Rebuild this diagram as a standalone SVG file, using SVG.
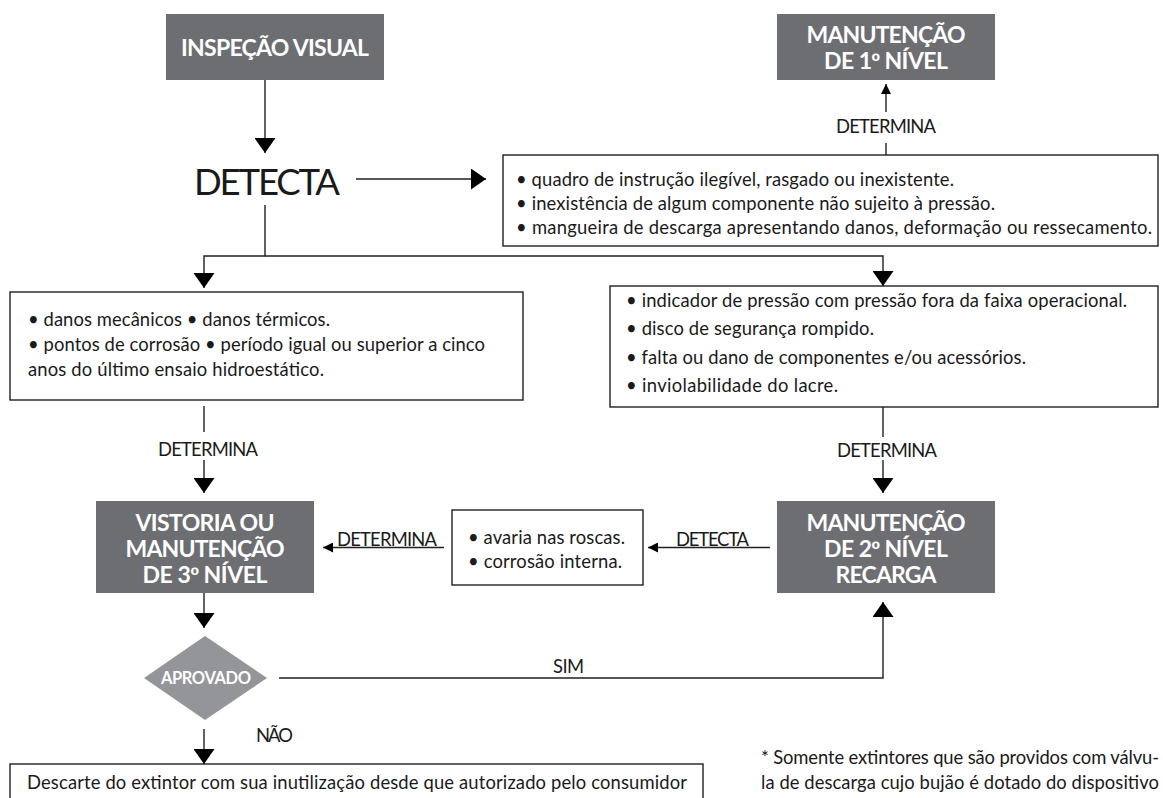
<svg xmlns="http://www.w3.org/2000/svg" width="1163" height="798" viewBox="0 0 1163 798">
  <style>
    .box{fill:#6d6e71}
    .dia{fill:#939598}
    .frame{fill:#fff;stroke:#231f20;stroke-width:1.4}
    .ln{fill:none;stroke:#231f20;stroke-width:1.4}
    .bt{font-family:Lato,"Open Sans","Liberation Sans",sans-serif;font-weight:700;font-size:23px;fill:#fff;text-anchor:middle}
    .t{font-family:Lato,"Open Sans","Liberation Sans",sans-serif;font-size:18.4px;fill:#1a1a1a}
    .big{font-size:36.5px}
    .c{text-anchor:middle}
    .ord{font-family:"Liberation Sans",Arial,sans-serif}
  </style>
  <defs>
    <marker id="ah" viewBox="0 0 15 21" markerWidth="15" markerHeight="21" refX="15" refY="10.5" orient="auto" markerUnits="userSpaceOnUse">
      <path d="M0,0 L15,10.5 L0,21 Z" fill="#000"/>
    </marker>
    <marker id="as" viewBox="0 0 10 10" markerWidth="10" markerHeight="10" refX="10" refY="5" orient="auto" markerUnits="userSpaceOnUse">
      <path d="M0,0 L10,5 L0,10 Z" fill="#000"/>
    </marker>
  </defs>
  <rect width="1163" height="798" fill="#fff"/>

  <g id="connectors">
    <path class="ln" d="M265,80 V153" marker-end="url(#ah)"/>
    <path class="ln" d="M356,179 H486" marker-end="url(#ah)"/>
    <path class="ln" d="M265,205 V256 H204 V288" marker-end="url(#ah)"/>
    <path class="ln" d="M265,256 H883 V286" marker-end="url(#ah)"/>
    <path class="ln" d="M886,155 V143"/>
    <path class="ln" d="M886,112 V84" marker-end="url(#as)"/>
    <path class="ln" d="M204,406 V432"/>
    <path class="ln" d="M204,460 V493" marker-end="url(#ah)"/>
    <path class="ln" d="M883,407 V437"/>
    <path class="ln" d="M883,460 V493" marker-end="url(#ah)"/>
    <path class="ln" d="M770,547.5 H648" marker-end="url(#as)"/>
    <path class="ln" d="M444,547.5 H323" marker-end="url(#as)"/>
    <path class="ln" d="M204,593 V628" marker-end="url(#ah)"/>
    <path class="ln" d="M279,678 H883 V602" marker-end="url(#ah)"/>
    <path class="ln" d="M204,729 V764" marker-end="url(#ah)"/>
    <g id="connector-labels">
      <text class="t c" x="886" y="133" textLength="100">DETERMINA</text>
      <text class="t c" x="208" y="456" textLength="100">DETERMINA</text>
      <text class="t c" x="887" y="456.5" textLength="100">DETERMINA</text>
      <text class="t" x="337" y="545.5" textLength="100">DETERMINA</text>
      <text class="t" x="676" y="545.5" textLength="73">DETECTA</text>
      <text class="t" x="553" y="673" textLength="31">SIM</text>
      <text class="t" x="256" y="742" textLength="37">NÃO</text>
    </g>
  </g>

  <g id="inspecao">
    <rect class="box" x="166" y="14" width="218" height="66"/>
    <text class="bt" x="275" y="56" textLength="188">INSPEÇÃO VISUAL</text>
  </g>

  <g id="detecta">
    <text class="t big" x="194" y="195" textLength="146">DETECTA</text>
  </g>

  <g id="manutencao1">
    <rect class="box" x="777" y="14" width="218" height="66"/>
    <text class="bt" x="886" y="42.5" textLength="159">MANUTENÇÃO</text>
    <text class="bt" x="886" y="69" textLength="124">DE 1<tspan class="ord">º</tspan> NÍVEL</text>
  </g>

  <g id="lista1">
    <rect class="frame" x="503" y="155" width="655" height="91"/>
    <text class="t" x="516" y="186" textLength="438">• quadro de instrução ilegível, rasgado ou inexistente.</text>
    <text class="t" x="516" y="210" textLength="479">• inexistência de algum componente não sujeito à pressão.</text>
    <text class="t" x="516" y="234" textLength="636">• mangueira de descarga apresentando danos, deformação ou ressecamento.</text>
  </g>

  <g id="lista2">
    <rect class="frame" x="10" y="292" width="513" height="108"/>
    <text class="t" x="28" y="326" textLength="302">• danos mecânicos • danos térmicos.</text>
    <text class="t" x="28" y="351" textLength="457">• pontos de corrosão • período igual ou superior a cinco</text>
    <text class="t" x="28" y="376" textLength="296">anos do último ensaio hidroestático.</text>
  </g>

  <g id="lista3">
    <rect class="frame" x="610" y="286" width="548" height="121"/>
    <text class="t" x="626" y="307" textLength="501">• indicador de pressão com pressão fora da faixa operacional.</text>
    <text class="t" x="626" y="335" textLength="248">• disco de segurança rompido.</text>
    <text class="t" x="626" y="364" textLength="400">• falta ou dano de componentes e/ou acessórios.</text>
    <text class="t" x="626" y="392" textLength="212">• inviolabilidade do lacre.</text>
  </g>

  <g id="vistoria">
    <rect class="box" x="96" y="501" width="218" height="92"/>
    <text class="bt" x="205" y="531" textLength="139">VISTORIA OU</text>
    <text class="bt" x="205" y="557" textLength="159">MANUTENÇÃO</text>
    <text class="bt" x="205" y="583" textLength="125">DE 3<tspan class="ord">º</tspan> NÍVEL</text>
  </g>

  <g id="manutencao2">
    <rect class="box" x="777" y="501" width="218" height="92"/>
    <text class="bt" x="886" y="531" textLength="159">MANUTENÇÃO</text>
    <text class="bt" x="886" y="557" textLength="124">DE 2<tspan class="ord">º</tspan> NÍVEL</text>
    <text class="bt" x="886" y="583" textLength="101">RECARGA</text>
  </g>

  <g id="lista4">
    <rect class="frame" x="452" y="510" width="191" height="75"/>
    <text class="t" x="468" y="544" textLength="157">• avaria nas roscas.</text>
    <text class="t" x="468" y="568" textLength="154">• corrosão interna.</text>
  </g>

  <g id="aprovado">
    <polygon class="dia" points="144,678 205,636 267,678 205,720"/>
    <text class="bt" x="206" y="684" style="font-size:16.5px" textLength="90">APROVADO</text>
  </g>

  <g id="descarte">
    <rect class="frame" x="10" y="764" width="693" height="50"/>
    <text class="t" x="27" y="789" textLength="660">Descarte do extintor com sua inutilização desde que autorizado pelo consumidor</text>
  </g>

  <g id="nota">
    <text class="t" x="761" y="764" textLength="398">* Somente extintores que são providos com válvu-</text>
    <text class="t" x="761" y="789" textLength="398">la de descarga cujo bujão é dotado do dispositivo</text>
  </g>
</svg>
